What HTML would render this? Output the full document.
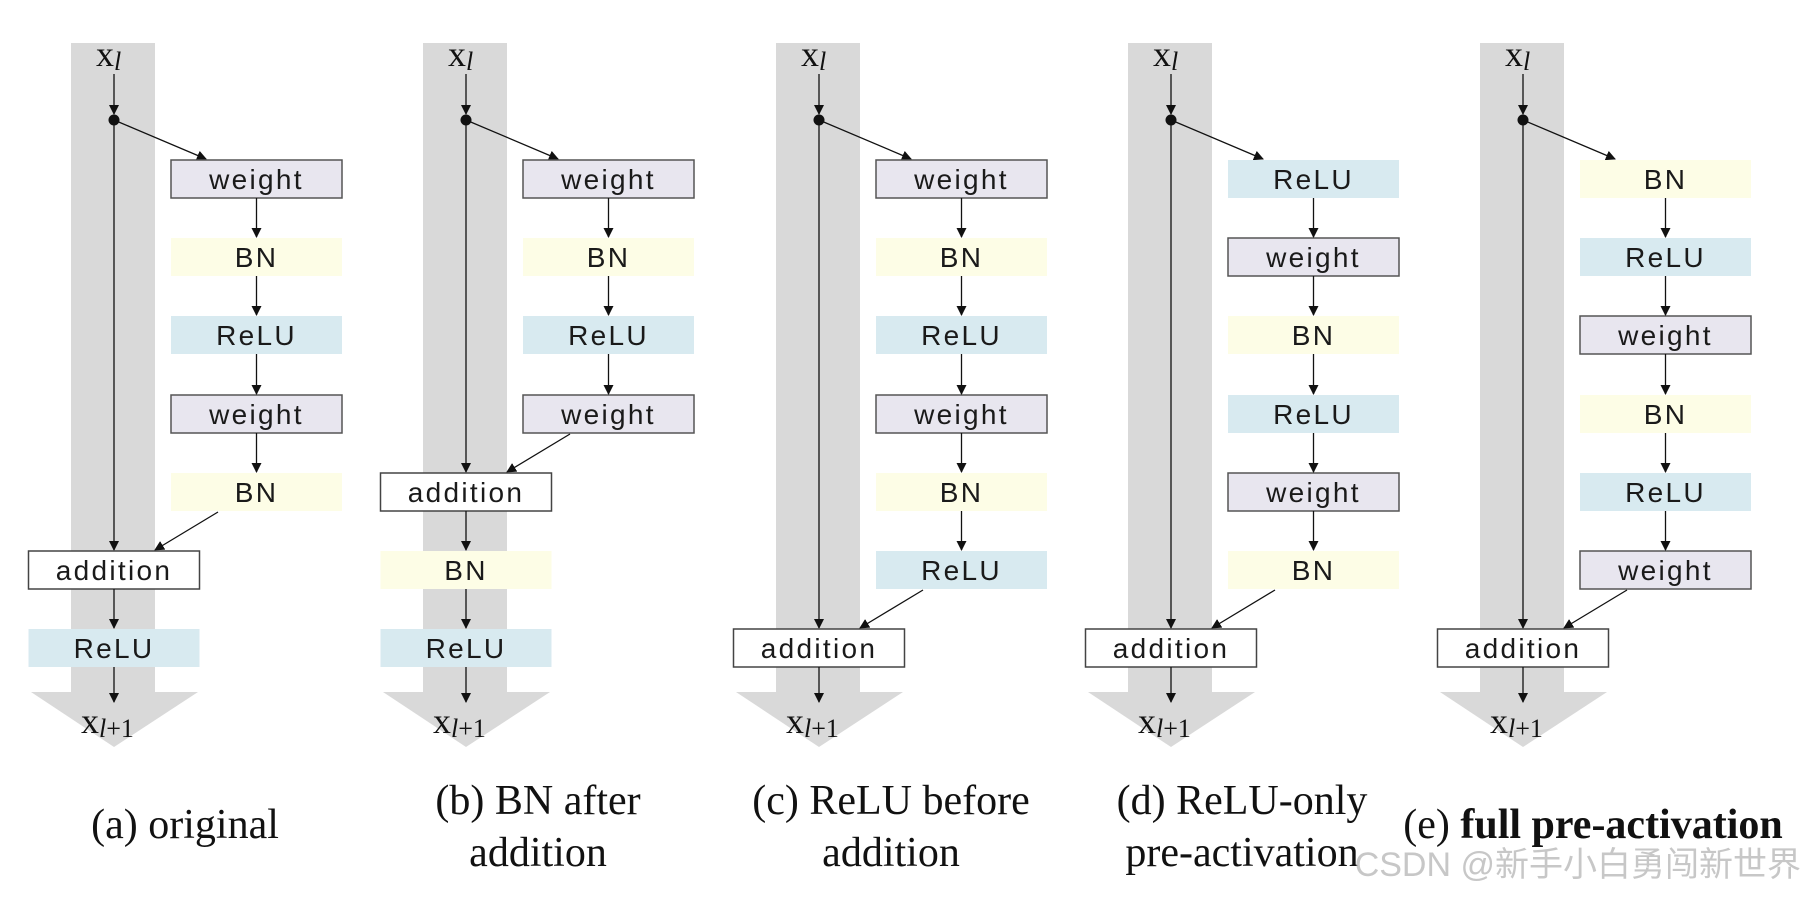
<!DOCTYPE html>
<html><head><meta charset="utf-8"><style>
html,body{margin:0;padding:0;background:#fff;}
svg{display:block;}
.bx{font-family:"Liberation Sans",sans-serif;font-size:28px;letter-spacing:2.3px;fill:#1a1a1a;text-anchor:middle;}
.sr{font-family:"Liberation Serif",serif;fill:#111;}
.cap{font-family:"Liberation Serif",serif;font-size:42px;fill:#111;text-anchor:middle;}
</style></head><body>
<svg width="1803" height="897" viewBox="0 0 1803 897" xmlns="http://www.w3.org/2000/svg">
<defs>
<marker id="ah" markerWidth="10" markerHeight="10" refX="9" refY="5" orient="auto" markerUnits="userSpaceOnUse">
<path d="M0,0 L10,5 L0,10 z" fill="#111"/></marker>
<g id="base">
<rect x="0" y="43" width="84" height="650" fill="#d9d9d9"/>
<polygon points="-40,692 127,692 43,747" fill="#d9d9d9"/>
<line x1="43" y1="74" x2="43" y2="114" stroke="#111" stroke-width="1.3" marker-end="url(#ah)"/>
<circle cx="43" cy="120" r="5.5" fill="#111"/>
<line x1="43" y1="120" x2="135" y2="159" stroke="#111" stroke-width="1.3" marker-end="url(#ah)"/>
<text class="sr" x="25" y="66" font-size="36">x<tspan font-style="italic" font-size="26" dy="4">l</tspan></text>
<text class="sr" x="10" y="733" font-size="36">x<tspan font-style="italic" font-size="26" dy="4">l</tspan><tspan font-size="26">+1</tspan></text>
</g>
</defs>

<!-- (a) -->
<g transform="translate(71,0)">
<use href="#base"/>
<rect x="100" y="160" width="171" height="38" fill="#e8e6ef" stroke="#555" stroke-width="1.5"/><text class="bx" x="185.5" y="189">weight</text>
<rect x="100" y="238" width="171" height="38" fill="#fdfde6"/><text class="bx" x="185.5" y="267">BN</text>
<rect x="100" y="316" width="171" height="38" fill="#d8eaf0"/><text class="bx" x="185.5" y="345">ReLU</text>
<rect x="100" y="395" width="171" height="38" fill="#e8e6ef" stroke="#555" stroke-width="1.5"/><text class="bx" x="185.5" y="424">weight</text>
<rect x="100" y="473" width="171" height="38" fill="#fdfde6"/><text class="bx" x="185.5" y="502">BN</text>
<line x1="185.5" y1="198" x2="185.5" y2="237" stroke="#111" stroke-width="1.3" marker-end="url(#ah)"/>
<line x1="185.5" y1="276" x2="185.5" y2="315" stroke="#111" stroke-width="1.3" marker-end="url(#ah)"/>
<line x1="185.5" y1="354" x2="185.5" y2="394" stroke="#111" stroke-width="1.3" marker-end="url(#ah)"/>
<line x1="185.5" y1="433" x2="185.5" y2="472" stroke="#111" stroke-width="1.3" marker-end="url(#ah)"/>
<line x1="43" y1="125" x2="43" y2="550" stroke="#111" stroke-width="1.3" marker-end="url(#ah)"/>
<line x1="147" y1="512" x2="84" y2="550" stroke="#111" stroke-width="1.3" marker-end="url(#ah)"/>
<rect x="-42.5" y="551" width="171" height="38" fill="#fff" stroke="#444" stroke-width="1.5"/><text class="bx" x="43" y="580">addition</text>
<line x1="43" y1="589" x2="43" y2="628" stroke="#111" stroke-width="1.3" marker-end="url(#ah)"/>
<rect x="-42.5" y="629" width="171" height="38" fill="#d8eaf0"/><text class="bx" x="43" y="658">ReLU</text>
<line x1="43" y1="667" x2="43" y2="702" stroke="#111" stroke-width="1.3" marker-end="url(#ah)"/>
</g>

<!-- (b) -->
<g transform="translate(423,0)">
<use href="#base"/>
<rect x="100" y="160" width="171" height="38" fill="#e8e6ef" stroke="#555" stroke-width="1.5"/><text class="bx" x="185.5" y="189">weight</text>
<rect x="100" y="238" width="171" height="38" fill="#fdfde6"/><text class="bx" x="185.5" y="267">BN</text>
<rect x="100" y="316" width="171" height="38" fill="#d8eaf0"/><text class="bx" x="185.5" y="345">ReLU</text>
<rect x="100" y="395" width="171" height="38" fill="#e8e6ef" stroke="#555" stroke-width="1.5"/><text class="bx" x="185.5" y="424">weight</text>
<line x1="185.5" y1="198" x2="185.5" y2="237" stroke="#111" stroke-width="1.3" marker-end="url(#ah)"/>
<line x1="185.5" y1="276" x2="185.5" y2="315" stroke="#111" stroke-width="1.3" marker-end="url(#ah)"/>
<line x1="185.5" y1="354" x2="185.5" y2="394" stroke="#111" stroke-width="1.3" marker-end="url(#ah)"/>
<line x1="43" y1="125" x2="43" y2="472" stroke="#111" stroke-width="1.3" marker-end="url(#ah)"/>
<line x1="147" y1="434" x2="84" y2="472" stroke="#111" stroke-width="1.3" marker-end="url(#ah)"/>
<rect x="-42.5" y="473" width="171" height="38" fill="#fff" stroke="#444" stroke-width="1.5"/><text class="bx" x="43" y="502">addition</text>
<line x1="43" y1="511" x2="43" y2="550" stroke="#111" stroke-width="1.3" marker-end="url(#ah)"/>
<rect x="-42.5" y="551" width="171" height="38" fill="#fdfde6"/><text class="bx" x="43" y="580">BN</text>
<line x1="43" y1="589" x2="43" y2="628" stroke="#111" stroke-width="1.3" marker-end="url(#ah)"/>
<rect x="-42.5" y="629" width="171" height="38" fill="#d8eaf0"/><text class="bx" x="43" y="658">ReLU</text>
<line x1="43" y1="667" x2="43" y2="702" stroke="#111" stroke-width="1.3" marker-end="url(#ah)"/>
</g>

<!-- (c) -->
<g transform="translate(776,0)">
<use href="#base"/>
<rect x="100" y="160" width="171" height="38" fill="#e8e6ef" stroke="#555" stroke-width="1.5"/><text class="bx" x="185.5" y="189">weight</text>
<rect x="100" y="238" width="171" height="38" fill="#fdfde6"/><text class="bx" x="185.5" y="267">BN</text>
<rect x="100" y="316" width="171" height="38" fill="#d8eaf0"/><text class="bx" x="185.5" y="345">ReLU</text>
<rect x="100" y="395" width="171" height="38" fill="#e8e6ef" stroke="#555" stroke-width="1.5"/><text class="bx" x="185.5" y="424">weight</text>
<rect x="100" y="473" width="171" height="38" fill="#fdfde6"/><text class="bx" x="185.5" y="502">BN</text>
<rect x="100" y="551" width="171" height="38" fill="#d8eaf0"/><text class="bx" x="185.5" y="580">ReLU</text>
<line x1="185.5" y1="198" x2="185.5" y2="237" stroke="#111" stroke-width="1.3" marker-end="url(#ah)"/>
<line x1="185.5" y1="276" x2="185.5" y2="315" stroke="#111" stroke-width="1.3" marker-end="url(#ah)"/>
<line x1="185.5" y1="354" x2="185.5" y2="394" stroke="#111" stroke-width="1.3" marker-end="url(#ah)"/>
<line x1="185.5" y1="433" x2="185.5" y2="472" stroke="#111" stroke-width="1.3" marker-end="url(#ah)"/>
<line x1="185.5" y1="511" x2="185.5" y2="550" stroke="#111" stroke-width="1.3" marker-end="url(#ah)"/>
<line x1="43" y1="125" x2="43" y2="628" stroke="#111" stroke-width="1.3" marker-end="url(#ah)"/>
<line x1="147" y1="590" x2="84" y2="628" stroke="#111" stroke-width="1.3" marker-end="url(#ah)"/>
<rect x="-42.5" y="629" width="171" height="38" fill="#fff" stroke="#444" stroke-width="1.5"/><text class="bx" x="43" y="658">addition</text>
<line x1="43" y1="667" x2="43" y2="702" stroke="#111" stroke-width="1.3" marker-end="url(#ah)"/>
</g>

<!-- (d) -->
<g transform="translate(1128,0)">
<use href="#base"/>
<rect x="100" y="160" width="171" height="38" fill="#d8eaf0"/><text class="bx" x="185.5" y="189">ReLU</text>
<rect x="100" y="238" width="171" height="38" fill="#e8e6ef" stroke="#555" stroke-width="1.5"/><text class="bx" x="185.5" y="267">weight</text>
<rect x="100" y="316" width="171" height="38" fill="#fdfde6"/><text class="bx" x="185.5" y="345">BN</text>
<rect x="100" y="395" width="171" height="38" fill="#d8eaf0"/><text class="bx" x="185.5" y="424">ReLU</text>
<rect x="100" y="473" width="171" height="38" fill="#e8e6ef" stroke="#555" stroke-width="1.5"/><text class="bx" x="185.5" y="502">weight</text>
<rect x="100" y="551" width="171" height="38" fill="#fdfde6"/><text class="bx" x="185.5" y="580">BN</text>
<line x1="185.5" y1="198" x2="185.5" y2="237" stroke="#111" stroke-width="1.3" marker-end="url(#ah)"/>
<line x1="185.5" y1="276" x2="185.5" y2="315" stroke="#111" stroke-width="1.3" marker-end="url(#ah)"/>
<line x1="185.5" y1="354" x2="185.5" y2="394" stroke="#111" stroke-width="1.3" marker-end="url(#ah)"/>
<line x1="185.5" y1="433" x2="185.5" y2="472" stroke="#111" stroke-width="1.3" marker-end="url(#ah)"/>
<line x1="185.5" y1="511" x2="185.5" y2="550" stroke="#111" stroke-width="1.3" marker-end="url(#ah)"/>
<line x1="43" y1="125" x2="43" y2="628" stroke="#111" stroke-width="1.3" marker-end="url(#ah)"/>
<line x1="147" y1="590" x2="84" y2="628" stroke="#111" stroke-width="1.3" marker-end="url(#ah)"/>
<rect x="-42.5" y="629" width="171" height="38" fill="#fff" stroke="#444" stroke-width="1.5"/><text class="bx" x="43" y="658">addition</text>
<line x1="43" y1="667" x2="43" y2="702" stroke="#111" stroke-width="1.3" marker-end="url(#ah)"/>
</g>

<!-- (e) -->
<g transform="translate(1480,0)">
<use href="#base"/>
<rect x="100" y="160" width="171" height="38" fill="#fdfde6"/><text class="bx" x="185.5" y="189">BN</text>
<rect x="100" y="238" width="171" height="38" fill="#d8eaf0"/><text class="bx" x="185.5" y="267">ReLU</text>
<rect x="100" y="316" width="171" height="38" fill="#e8e6ef" stroke="#555" stroke-width="1.5"/><text class="bx" x="185.5" y="345">weight</text>
<rect x="100" y="395" width="171" height="38" fill="#fdfde6"/><text class="bx" x="185.5" y="424">BN</text>
<rect x="100" y="473" width="171" height="38" fill="#d8eaf0"/><text class="bx" x="185.5" y="502">ReLU</text>
<rect x="100" y="551" width="171" height="38" fill="#e8e6ef" stroke="#555" stroke-width="1.5"/><text class="bx" x="185.5" y="580">weight</text>
<line x1="185.5" y1="198" x2="185.5" y2="237" stroke="#111" stroke-width="1.3" marker-end="url(#ah)"/>
<line x1="185.5" y1="276" x2="185.5" y2="315" stroke="#111" stroke-width="1.3" marker-end="url(#ah)"/>
<line x1="185.5" y1="354" x2="185.5" y2="394" stroke="#111" stroke-width="1.3" marker-end="url(#ah)"/>
<line x1="185.5" y1="433" x2="185.5" y2="472" stroke="#111" stroke-width="1.3" marker-end="url(#ah)"/>
<line x1="185.5" y1="511" x2="185.5" y2="550" stroke="#111" stroke-width="1.3" marker-end="url(#ah)"/>
<line x1="43" y1="125" x2="43" y2="628" stroke="#111" stroke-width="1.3" marker-end="url(#ah)"/>
<line x1="147" y1="590" x2="84" y2="628" stroke="#111" stroke-width="1.3" marker-end="url(#ah)"/>
<rect x="-42.5" y="629" width="171" height="38" fill="#fff" stroke="#444" stroke-width="1.5"/><text class="bx" x="43" y="658">addition</text>
<line x1="43" y1="667" x2="43" y2="702" stroke="#111" stroke-width="1.3" marker-end="url(#ah)"/>
</g>

<!-- captions -->
<text class="cap" x="185" y="838">(a) original</text>
<text class="cap" x="538" y="814">(b) BN after</text>
<text class="cap" x="538" y="866">addition</text>
<text class="cap" x="891" y="814">(c) ReLU before</text>
<text class="cap" x="891" y="866">addition</text>
<text class="cap" x="1242" y="814">(d) ReLU-only</text>
<text class="cap" x="1242" y="866">pre-activation</text>
<text class="cap" x="1593" y="838">(e) <tspan font-weight="bold">full pre-activation</tspan></text>
<text x="1801" y="876" text-anchor="end" font-family="'Liberation Sans','Noto Sans CJK SC',sans-serif" font-size="34" fill="#bdbdbd" fill-opacity="0.85">CSDN @新手小白勇闯新世界</text>
</svg>
</body></html>
